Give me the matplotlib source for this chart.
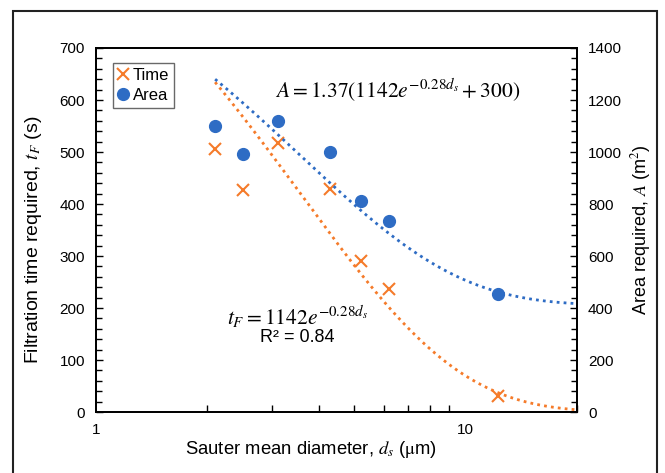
import numpy as np
import matplotlib

matplotlib.use("Agg")

import matplotlib.pyplot as plt
from matplotlib.patches import Rectangle
from matplotlib.ticker import MultipleLocator, LogLocator, NullFormatter, FixedLocator

plt.rcParams["font.family"] = ["Liberation Sans", "DejaVu Sans"]
plt.rcParams["mathtext.fontset"] = "stix"

# Measured data
diameter = [2.1, 2.5, 3.1, 4.3, 5.2, 6.2, 12.2]          # d_s (um)
time_req = [505, 427, 518, 428, 291, 236, 31]             # t_F (s)
area_req = [1101, 993, 1120, 1000, 810, 735, 454]         # A (m2)

# Fitted model parameters
fit_a = 1142
fit_k = 0.28
area_factor = 1.37
area_offset = 300
fit_range = (2.1, 20)

ORANGE = "#F57B2A"
BLUE = "#2E6CC4"

fig = plt.figure(figsize=(6.65, 4.73), dpi=100)
ax = fig.add_axes([96 / 665, 1 - 412 / 473, 481 / 665, 364 / 473])
ax2 = ax.twinx()

# Outer frame around the figure
fig.patches.append(Rectangle((12.7 / 665, -0.1), (657 - 12.7) / 665, 1.1 - 10.7 / 473,
                             transform=fig.transFigure, fill=False,
                             edgecolor="#222222", linewidth=1.5))

d = np.linspace(fit_range[0], fit_range[1], 300)
t_fit = fit_a * np.exp(-fit_k * d)
a_fit = area_factor * (t_fit + area_offset)

ax.plot(d, t_fit, linestyle=(0, (1, 1.5)), color=ORANGE, linewidth=2)
ax2.plot(d, a_fit, linestyle=(0, (1, 1.5)), color=BLUE, linewidth=2)

h1, = ax.plot(diameter, time_req, "x", color=ORANGE, markersize=8, markeredgewidth=1.5,
              label="Time", zorder=5)
h2, = ax2.plot(diameter, area_req, "o", color=BLUE, markersize=8.5, label="Area", zorder=5)

ax.set_xscale("log")
ax.set_xlim(1, 20)
ax.set_ylim(0, 700)
ax2.set_ylim(0, 1400)

ax.xaxis.set_major_locator(FixedLocator([1, 10]))
ax.xaxis.set_major_formatter(plt.FuncFormatter(lambda v, p: f"{v:g}"))
ax.xaxis.set_minor_locator(LogLocator(base=10, subs=np.arange(2, 10)))
ax.xaxis.set_minor_formatter(NullFormatter())

ax.yaxis.set_major_locator(MultipleLocator(100))
ax.yaxis.set_minor_locator(MultipleLocator(20))
ax2.yaxis.set_major_locator(MultipleLocator(200))
ax2.yaxis.set_minor_locator(MultipleLocator(40))

for a in (ax, ax2):
    a.tick_params(axis="y", which="both", direction="in", labelsize=11, width=1)
    a.tick_params(axis="y", which="major", length=5, pad=8)
    a.tick_params(axis="y", which="minor", length=4)
    for s in a.spines.values():
        s.set_linewidth(1.3)
ax.tick_params(axis="x", which="both", direction="in", labelsize=11, width=1,
               top=False, labeltop=False)
ax.tick_params(axis="x", which="major", length=0, pad=8)
ax.tick_params(axis="x", which="minor", length=5)
ax2.tick_params(axis="x", which="both", top=False, bottom=False,
                labeltop=False, labelbottom=False)

ax.set_xlabel(r"Sauter mean diameter, $\mathit{d_s}$ ($\mathrm{\mu}$m)", fontsize=13.3, labelpad=2)
ax.xaxis.set_label_coords((311 - 96) / 481, -0.075)
ax.set_ylabel(r"Filtration time required, $\mathit{t_F}$ (s)", fontsize=14, labelpad=8)
ax.yaxis.set_label_coords((44 - 96) / 481, (412 - 240) / 364)
ax2.set_ylabel(r"Area required, $\mathit{A}$ (m$^2$)", fontsize=13, labelpad=5)

leg = ax.legend(handles=[h1, h2], loc="upper left", bbox_to_anchor=(0.035, 0.96),
                fontsize=12, frameon=True, fancybox=False, handlelength=0.6,
                handletextpad=0.3, borderpad=0.3, labelspacing=0.3, borderaxespad=0)
leg.get_frame().set_edgecolor("#444444")
leg.get_frame().set_linewidth(1)

ax.text(0.626, 0.885, r"$A = 1.37\left(1142e^{-0.28d_s} + 300\right)$", transform=ax.transAxes,
        ha="center", va="center", fontsize=15.5)
ax.text(0.42, 0.262, r"$t_F = 1142e^{-0.28d_s}$", transform=ax.transAxes,
        ha="center", va="center", fontsize=15.5)
ax.text(0.418, 0.204, "R² = 0.84", transform=ax.transAxes,
        ha="center", va="center", fontsize=13)

fig.savefig("out.png", dpi=100)
